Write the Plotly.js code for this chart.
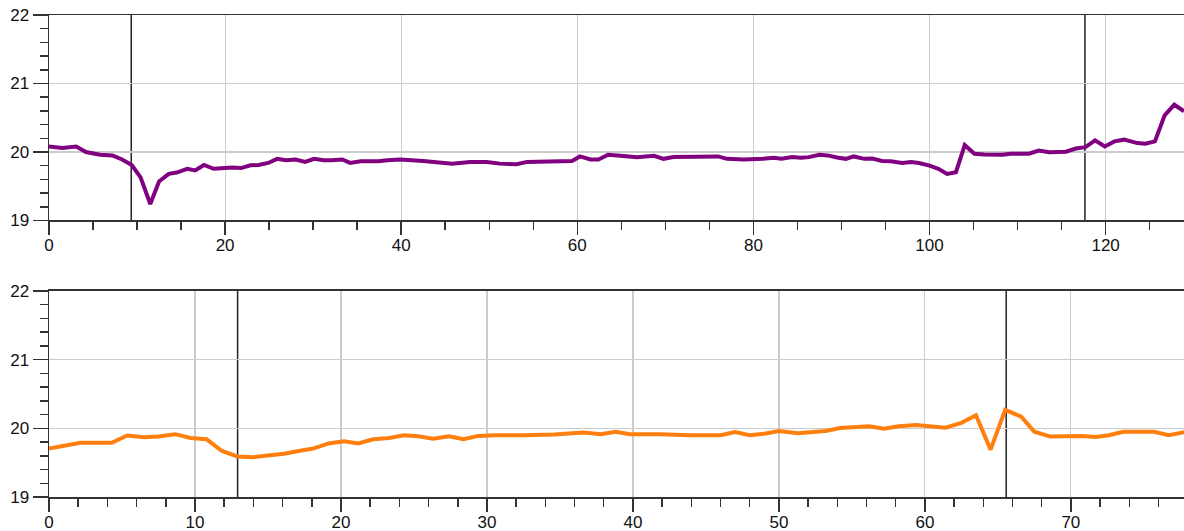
<!DOCTYPE html>
<html>
<head>
<meta charset="utf-8">
<script src="https://cdn.plot.ly/plotly-3.0.1.min.js"></script>
<style>
  html, body { margin: 0; padding: 0; background: #fff; }
  #chart { width: 1184px; height: 531px; }
</style>
</head>
<body>
<div id="chart"></div>
<script>
// ---- Data ----
var topX = [0, 1.5, 3.1, 4.2, 5.8, 7.2, 8.3, 9.4, 10.4, 11.5,
  12.5, 13.6, 14.5, 15.7, 16.6, 17.6, 18.7, 19.8, 20.8, 21.8,
  22.9, 23.8, 24.9, 25.9, 26.9, 28.0, 29.1, 30.1, 31.2, 32.1,
  33.3, 34.2, 35.4, 36.3, 37.4, 38.4, 39.9, 42.5, 45.8, 47.8,
  49.7, 51.2, 53.1, 54.3, 56.2, 57.3, 59.4, 60.3, 61.5, 62.4,
  63.5, 64.9, 66.8, 68.7, 69.8, 70.9, 76.0, 77.0, 78.9, 81.1,
  82.3, 83.2, 84.4, 85.4, 86.3, 87.5, 88.4, 89.5, 90.5, 91.4,
  92.6, 93.5, 94.6, 95.6, 96.9, 97.9, 98.8, 100.0, 101.0, 102.0,
  103.0, 104.0, 105.1, 106.2, 108.3, 109.2, 111.3, 112.4, 113.6, 115.5,
  116.6, 117.7, 118.8, 119.9, 121.0, 122.1, 123.6, 124.5, 125.6, 126.7,
  127.8, 128.9];
var topY = [20.08, 20.06, 20.08, 20.0, 19.96, 19.95, 19.89, 19.81, 19.63, 19.24,
  19.57, 19.68, 19.70, 19.755, 19.73, 19.81, 19.755, 19.765, 19.775, 19.765,
  19.805, 19.81, 19.84, 19.90, 19.88, 19.89, 19.855, 19.90, 19.88, 19.88,
  19.89, 19.84, 19.865, 19.865, 19.865, 19.88, 19.89, 19.87, 19.83, 19.855,
  19.855, 19.83, 19.82, 19.855, 19.86, 19.86, 19.87, 19.935, 19.89, 19.89,
  19.96, 19.945, 19.925, 19.945, 19.90, 19.925, 19.935, 19.90, 19.89, 19.90,
  19.915, 19.90, 19.925, 19.915, 19.925, 19.96, 19.95, 19.92, 19.90, 19.935,
  19.90, 19.905, 19.87, 19.865, 19.84, 19.855, 19.84, 19.80, 19.755, 19.68,
  19.705, 20.10, 19.975, 19.965, 19.96, 19.975, 19.975, 20.02, 19.995, 20.005,
  20.05, 20.07, 20.17, 20.08, 20.155, 20.18, 20.13, 20.12, 20.155, 20.535,
  20.69, 20.595];

var botX = [0, 1.0, 2.15, 3.3, 4.3, 5.35, 6.5, 7.5, 8.65, 9.7,
  10.8, 11.85, 12.9, 14.0, 15.0, 16.1, 17.1, 18.1, 19.15, 20.2,
  21.2, 22.2, 23.3, 24.3, 25.3, 26.3, 27.4, 28.4, 29.4, 30.5,
  32.5, 34.6, 36.6, 37.8, 38.8, 39.8, 41.9, 43.9, 46.0, 47.0,
  48.0, 49.1, 50.0, 51.3, 53.2, 54.2, 55.3, 56.2, 57.2, 58.2,
  59.4, 60.4, 61.4, 62.5, 63.5, 64.5, 65.5, 66.6, 67.5, 68.6,
  69.7, 70.7, 71.7, 72.6, 73.6, 74.7, 75.7, 76.7, 77.8];
var botY = [19.705, 19.74, 19.79, 19.79, 19.79, 19.895, 19.87, 19.88, 19.915, 19.86,
  19.84, 19.67, 19.59, 19.58, 19.60, 19.63, 19.67, 19.705, 19.78, 19.81,
  19.78, 19.84, 19.86, 19.90, 19.885, 19.85, 19.885, 19.84, 19.89, 19.90,
  19.90, 19.91, 19.94, 19.915, 19.95, 19.915, 19.915, 19.90, 19.90, 19.945,
  19.90, 19.925, 19.96, 19.93, 19.96, 20.005, 20.02, 20.03, 19.995, 20.03,
  20.05, 20.03, 20.01, 20.08, 20.19, 19.69, 20.27, 20.17, 19.95, 19.88,
  19.89, 19.89, 19.875, 19.90, 19.95, 19.955, 19.95, 19.90, 19.945];

var topEvents = [9.34, 117.65];
var botEvents = [12.92, 65.57];

var topRange = [0, 128.9];
var botRange = [0, 77.75];
var yRange = [19, 22];

// ---- Styling ----
var axisColor = '#333333';
var gridColor = '#cccccc';
var fontFamily = 'Arial, "Liberation Sans", Helvetica, sans-serif';

function xAxis(range, dtick, minorDtick, anchor) {
  return {
    range: range, anchor: anchor, dtick: dtick, tick0: 0,
    showline: true, linecolor: axisColor, linewidth: 1.5, mirror: true,
    ticks: 'outside', ticklen: 13, tickwidth: 1.5, tickcolor: axisColor,
    ticklabelstandoff: -4,
    minor: { dtick: minorDtick, tick0: 0, ticks: 'outside', ticklen: 8, tickwidth: 1.5, tickcolor: axisColor, showgrid: false },
    showgrid: true, gridcolor: gridColor, gridwidth: 1.2,
    zeroline: false, fixedrange: true,
    tickfont: { family: fontFamily, size: 17, color: '#111' }
  };
}
function yAxis(domain, anchor) {
  return {
    range: yRange, domain: domain, anchor: anchor, dtick: 1, tick0: 19,
    showline: true, linecolor: axisColor, linewidth: 1.5, mirror: false,
    ticks: 'outside', ticklen: 15, tickwidth: 1.5, tickcolor: axisColor,
    minor: { dtick: 0.2, tick0: 19, ticks: 'outside', ticklen: 8, tickwidth: 1.5, tickcolor: axisColor, showgrid: false },
    showgrid: true, gridcolor: gridColor, gridwidth: 1.2,
    zeroline: false, fixedrange: true,
    tickfont: { family: fontFamily, size: 17, color: '#111' }
  };
}

var traces = [
  { x: topX, y: topY, xaxis: 'x', yaxis: 'y', type: 'scatter', mode: 'lines',
    line: { color: '#800080', width: 4 }, hoverinfo: 'skip' },
  { x: botX, y: botY, xaxis: 'x2', yaxis: 'y2', type: 'scatter', mode: 'lines',
    line: { color: '#ff7f0e', width: 4 }, hoverinfo: 'skip' }
];

var shapes = [];
topEvents.forEach(function (v) {
  shapes.push({ type: 'line', xref: 'x', yref: 'y domain', x0: v, x1: v, y0: 0, y1: 1,
    line: { color: '#222', width: 1.5 }, layer: 'below' });
});
botEvents.forEach(function (v) {
  shapes.push({ type: 'line', xref: 'x2', yref: 'y2 domain', x0: v, x1: v, y0: 0, y1: 1,
    line: { color: '#222', width: 1.5 }, layer: 'below' });
});

var layout = {
  width: 1184, height: 531,
  margin: { l: 49, r: 0, t: 15, b: 34, pad: 0 },
  paper_bgcolor: '#ffffff', plot_bgcolor: '#ffffff',
  showlegend: false,
  font: { family: fontFamily, size: 17, color: '#111' },
  xaxis: xAxis(topRange, 20, 5, 'y'),
  yaxis: yAxis([0.5737, 1], 'x'),
  xaxis2: xAxis(botRange, 10, 2, 'y2'),
  yaxis2: yAxis([0, 0.4274], 'x2'),
  shapes: shapes,
  hovermode: false
};

Plotly.newPlot('chart', traces, layout, { displayModeBar: false, staticPlot: true });
</script>
</body>
</html>
